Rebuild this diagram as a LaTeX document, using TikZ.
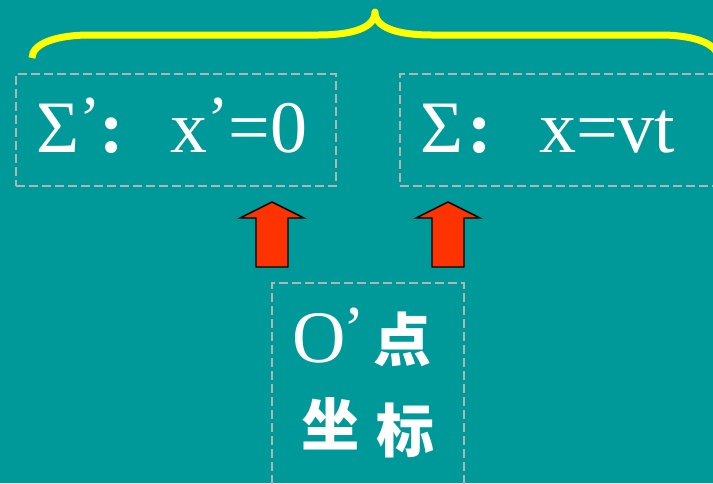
\documentclass[tikz,border=0pt]{standalone}
\usepackage{fontspec}
\setmainfont{Liberation Serif}
\newfontfamily\cjk{Noto Sans CJK SC}
\definecolor{bg}{RGB}{0,153,153}
\definecolor{boxgray}{RGB}{180,180,180}
\definecolor{arrowred}{RGB}{255,51,0}
\definecolor{braceyellow}{RGB}{255,255,0}
\newcommand{\pr}{\raisebox{12pt}{\fontsize{64}{70}\selectfont ’}}
\begin{document}
\begin{tikzpicture}[x=1pt,y=-1pt,
  dbox/.style={draw=boxgray, dash pattern=on 9pt off 4pt, line width=1.8pt, rectangle, inner sep=0pt},
  big/.style={text=white, inner sep=0pt, font=\fontsize{74}{80}\selectfont},
  colon/.style={text=white, inner sep=0pt, anchor=base, font=\bfseries\fontsize{74}{80}\selectfont},
  hanzi/.style={text=white, inner sep=0pt, font=\cjk\bfseries\fontsize{58}{64}\selectfont},
  blockarrow/.style={fill=arrowred, draw=black, line width=1.4pt, line join=miter},
  bracestyle/.style={draw=braceyellow, line width=7pt, line join=round}]
\useasboundingbox (0,0) rectangle (713,483);
\fill[bg] (0,0) rectangle (713,483);
\clip (0,0) rectangle (713,483);

% brace
\draw[bracestyle] (32,58) .. controls (32,44) and (55,35) .. (90,35) -- (318,35)
  .. controls (352,35) and (375,28) .. (375,12)
  .. controls (375,28) and (398,35) .. (432,35) -- (660,35)
  .. controls (695,35) and (718,44) .. (718,58);

% boxes
\node[dbox, minimum width=320pt, minimum height=112pt] (box1) at (176,130) {};
\node[dbox, minimum width=330pt, minimum height=112pt] (box2) at (565,130) {};
\node[dbox, minimum width=192pt, minimum height=230pt] (box3) at (368,398) {};

% texts box 1
\node[big, anchor=base west] (s1) at (36,152) {Σ\pr};
\node[colon] (c1) at (112,152) {:};
\node[big, anchor=base west] (e1) at (170,152) {x\pr=0};

% texts box 2
\node[big, anchor=base west] (s2) at (420,152) {Σ};
\node[colon] (c2) at (480,152) {:};
\node[big, anchor=base west] (e2) at (539,152) {x=vt};

% texts box 3
\node[big, anchor=base west] (o) at (292,362) {O\kern-2pt\pr};
\node[hanzi] (h1) at (402,339) {点};
\node[hanzi] (h2) at (330,424) {坐};
\node[hanzi] (h3) at (405,430) {标};

% block arrows
\coordinate (a1) at (272,267);
\coordinate (a2) at (448,267);
\draw[blockarrow] (a1) ++(-16,0) -- ++(0,-49) -- ++(-16,0) -- ++(32,-16) -- ++(32,16) -- ++(-16,0) -- ++(0,49) -- cycle;
\draw[blockarrow] (a2) ++(-16,0) -- ++(0,-49) -- ++(-16,0) -- ++(32,-16) -- ++(32,16) -- ++(-16,0) -- ++(0,49) -- cycle;
\end{tikzpicture}
\end{document}
